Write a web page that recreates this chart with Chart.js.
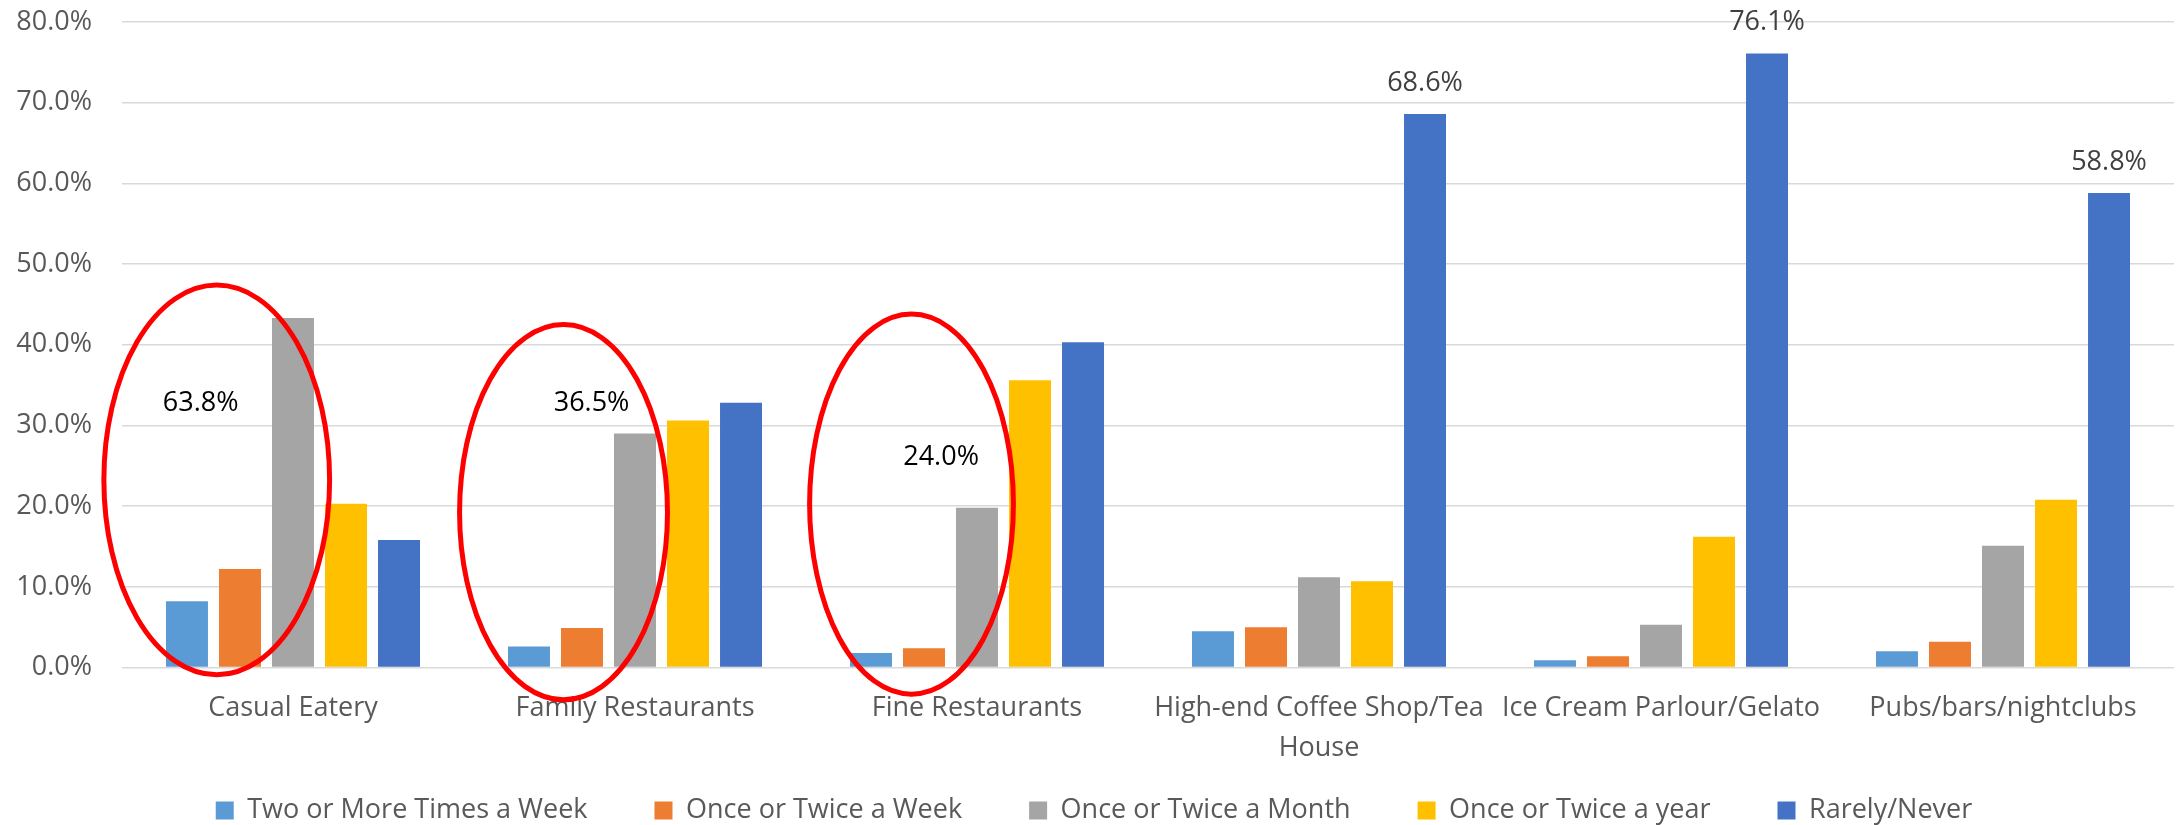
<!DOCTYPE html>
<html>
<head>
<meta charset="utf-8">
<script src="https://cdn.jsdelivr.net/npm/chart.js@4.4.1/dist/chart.umd.min.js"></script>
<style>
  html, body { margin: 0; padding: 0; background: #fff; overflow: hidden; }
  #wrap { width: 2176px; height: 834px; }
</style>
</head>
<body>
<div id="wrap"><canvas id="chart"></canvas></div>
<script>
const categories = [
  'Casual Eatery',
  'Family Restaurants',
  'Fine Restaurants',
  ['High-end Coffee Shop/Tea', 'House'],
  'Ice Cream Parlour/Gelato',
  'Pubs/bars/nightclubs',
];
const seriesNames = [
  'Two or More Times a Week',
  'Once or Twice a Week',
  'Once or Twice a Month',
  'Once or Twice a year',
  'Rarely/Never',
];
const twoPlusWeek = [8.2, 2.6, 1.8, 4.5, 0.9, 2.0];
const onceTwiceWeek = [12.2, 4.9, 2.4, 5.0, 1.4, 3.2];
const onceTwiceMonth = [43.3, 29.0, 19.8, 11.2, 5.3, 15.1];
const onceTwiceYear = [20.3, 30.6, 35.6, 10.7, 16.2, 20.8];
const rarelyNever = [15.8, 32.8, 40.3, 68.6, 76.1, 58.8];
const yTicks = [0, 10, 20, 30, 40, 50, 60, 70, 80];

// bars of Rarely/Never that carry a value label
const labelledBars = [3, 4, 5];
// circled groups and the share written inside each ring
const ringCats = [0, 1, 2];
const ringValues = [63.8, 36.5, 24.0];

const COLORS = ['#5B9BD5', '#ED7D31', '#A5A5A5', '#FFC000', '#4472C4'];
const FONT = '"Open Sans", "DejaVu Sans", sans-serif';
const TEXT = '#595959';

// ring geometry: x offsets / radius in category widths, y in axis units
const RING_GEOM = [
  { dx: -0.223, rx: 0.33, top: 47.4, bottom: -0.9, tx: -0.27, ty: 32.7 },
  { dx: -0.209, rx: 0.304, top: 42.5, bottom: -4.0, tx: -0.127, ty: 32.7 },
  { dx: -0.1915, rx: 0.298, top: 43.8, bottom: -3.3, tx: -0.105, ty: 26.0 },
];

const ringPlugin = {
  id: 'rings',
  afterDatasetsDraw(chart) {
    const { ctx } = chart;
    const x = chart.scales.x;
    const y = chart.scales.y;
    const cat = x.getPixelForValue(1) - x.getPixelForValue(0);
    ctx.save();
    ctx.font = `27px ${FONT}`;
    ctx.textAlign = 'center';
    ctx.textBaseline = 'middle';

    const meta = chart.getDatasetMeta(4);
    ctx.fillStyle = '#404040';
    for (const i of labelledBars) {
      const bar = meta.data[i];
      ctx.fillText(rarelyNever[i].toFixed(1) + '%', bar.x, bar.y - 31);
    }

    ringCats.forEach((c, k) => {
      const g = RING_GEOM[k];
      const cx = x.getPixelForValue(c) + g.dx * cat;
      const top = y.getPixelForValue(g.top);
      const bot = y.getPixelForValue(g.bottom);
      ctx.beginPath();
      ctx.ellipse(cx, (top + bot) / 2, g.rx * cat, (bot - top) / 2, 0, 0, Math.PI * 2);
      ctx.strokeStyle = '#FF0000';
      ctx.lineWidth = 5;
      ctx.stroke();
      ctx.fillStyle = '#000000';
      ctx.fillText(ringValues[k].toFixed(1) + '%', x.getPixelForValue(c) + g.tx * cat, y.getPixelForValue(g.ty));
    });
    ctx.restore();
  },
};

const series = [twoPlusWeek, onceTwiceWeek, onceTwiceMonth, onceTwiceYear, rarelyNever];

new Chart(document.getElementById('chart'), {
  type: 'bar',
  data: {
    labels: categories,
    datasets: series.map((d, i) => ({
      label: seriesNames[i],
      data: d,
      backgroundColor: COLORS[i],
      borderWidth: 0,
      categoryPercentage: 0.775,
      barPercentage: 0.792,
    })),
  },
  options: {
    responsive: true,
    maintainAspectRatio: false,
    animation: false,
    layout: { padding: { left: 14, right: 2, top: 22, bottom: 0 } },
    scales: {
      x: {
        grid: { display: false, drawTicks: false },
        border: { display: false },
        ticks: {
          color: TEXT,
          font: { family: FONT, size: 27, lineHeight: 40 / 27 },
          padding: 21,
          maxRotation: 0,
          autoSkip: false,
        },
        afterFit: (s) => {
          s.height = 103;
          s.paddingLeft = 0;
          s.paddingRight = 0;
        },
      },
      y: {
        min: 0,
        max: 80,
        afterBuildTicks: (s) => { s.ticks = yTicks.map((v) => ({ value: v })); },
        grid: { color: '#D9D9D9', lineWidth: 1.5, drawTicks: false },
        border: { display: false },
        ticks: {
          color: TEXT,
          font: { family: FONT, size: 27 },
          padding: 30,
          callback: (v) => v.toFixed(1) + '%',
        },
        afterFit: (s) => {
          s.width = 108;
          s.paddingTop = 0;
          s.paddingBottom = 0;
        },
      },
    },
    plugins: {
      tooltip: { enabled: false },
      legend: {
        position: 'bottom',
        labels: {
          color: TEXT,
          font: { family: FONT, size: 27 },
          boxWidth: 18,
          boxHeight: 18,
          padding: 26.5,
          // widen the entries a little so the spacing matches the original
          generateLabels: (chart) => {
            const items = Chart.defaults.plugins.legend.labels.generateLabels(chart);
            return items.map((l, i) => ({
              ...l,
              text: i < items.length - 1 ? l.text + '\u2002\u2002\u2002' : l.text,
            }));
          },
        },
      },
    },
  },
  plugins: [ringPlugin],
});
</script>
</body>
</html>
